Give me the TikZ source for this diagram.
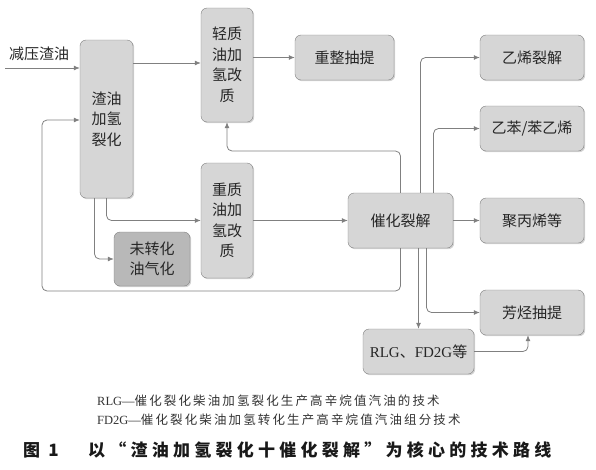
\documentclass[tikz,border=0pt]{standalone}
\usepackage{fontspec}
\setmainfont{Noto Sans CJK SC}
\newfontfamily\latfont{Liberation Serif}
\newfontfamily\capfont[LetterSpace=17]{Noto Sans CJK SC}
\newfontfamily\titlefont[LetterSpace=25]{Noto Sans CJK SC}
\usetikzlibrary{arrows.meta,shadows,positioning}

\begin{document}
\begin{tikzpicture}[x=1pt,y=-1pt,
    bx/.style={draw=black!50,fill=black!16,rounded corners=6pt,align=center,inner sep=2pt,
      text=black!85,font=\fontsize{15}{20.5}\selectfont,
      drop shadow={shadow xshift=1.2pt,shadow yshift=-1.2pt,opacity=.35}},
    ln/.style={draw=black!50,line width=.8pt,rounded corners=5pt,
      -{Latex[length=6pt,width=5pt]}}]
  \useasboundingbox (0,0) rectangle (596,469);
  % boxes
  \node[bx,minimum width=53pt,minimum height=158pt] (1) at (106.5,119) {渣油\\加氢\\裂化};
  \node[bx,minimum width=52pt,minimum height=114pt] (2) at (227,65) {轻质\\油加\\氢改\\质};
  \node[bx,minimum width=99pt,minimum height=45pt] (3) at (344.5,57.5) {重整抽提};
  \node[bx,minimum width=104pt,minimum height=45pt] (4) at (532,57.5) {乙烯裂解};
  \node[bx,minimum width=104pt,minimum height=45pt] (5) at (532,128.5) {乙苯/苯乙烯};
  \node[bx,minimum width=52pt,minimum height=115pt] (6) at (227,220.5) {重质\\油加\\氢改\\质};
  \node[bx,fill=black!28,minimum width=76pt,minimum height=54pt] (7) at (152,259) {未转化\\油气化};
  \node[bx,minimum width=105pt,minimum height=55pt] (8) at (400.5,220.5) {催化裂解};
  \node[bx,minimum width=104pt,minimum height=45pt] (9) at (532,220.5) {聚丙烯等};
  \node[bx,minimum width=104pt,minimum height=45pt] (10) at (532,312.5) {芳烃抽提};
  \node[bx,minimum width=111pt,minimum height=45pt] (11) at (418.5,351.5) {{\latfont RLG}、{\latfont FD2G}等};
  % feed
  \coordinate (in) at (5,68);
  \node[font=\fontsize{15}{15}\selectfont,text=black!85,anchor=south west,inner sep=1pt] (feed) at (8,62) {减压渣油};
  % connectors
  \draw[ln] (in) -- (1.west|-in);
  \draw[ln] (1.east|-0,63) -- (2.west|-0,63);
  \draw[ln] (2.east|-3.west) -- (3.west);
  \draw[ln] (1.south) |- (6.west);
  \draw[ln] ([xshift=-12pt]1.south) |- (7.west);
  \draw[ln] (6) -- (8);
  \draw[ln] (8) -- (9);
  \draw[ln] (8.north) -- (8.north|-0,151) -- (2.south|-0,151) -- (2.south);
  \draw[ln] ([xshift=20pt]8.north) |- (4.west);
  \draw[ln] ([xshift=33pt]8.north) |- (5.west);
  \draw[ln] (8.south) -- (8.south|-0,291) -- (42,291) -- (42,120) -- (1.west|-0,120);
  \draw[ln] (8.south-|11.north) -- (11.north);
  \draw[ln] ([xshift=26pt]8.south) |- (10.west);
  \draw[ln] (11.east) -| ([xshift=-4pt]10.south);
  % caption
  \node[anchor=west,inner sep=0pt,text=black!80,font=\fontsize{12.5}{13}\capfont] (c1) at (97,401)
    {{\latfont RLG—}催化裂化柴油加氢裂化生产高辛烷值汽油的技术};
  \node[anchor=west,inner sep=0pt,text=black!80,font=\fontsize{12.5}{13}\capfont] (c2) at (97,420)
    {{\latfont FD2G—}催化裂化柴油加氢转化生产高辛烷值汽油组分技术};
  \node[anchor=west,inner sep=0pt,text=black!90,font=\fontsize{17}{18}\titlefont\bfseries] (t0) at (23,450) {图 1};
  \node[anchor=west,inner sep=0pt,text=black!90,font=\fontsize{17}{18}\titlefont\bfseries] (t1) at (88,450)
    {以“渣油加氢裂化十催化裂解”为核心的技术路线};
\end{tikzpicture}
\end{document}
